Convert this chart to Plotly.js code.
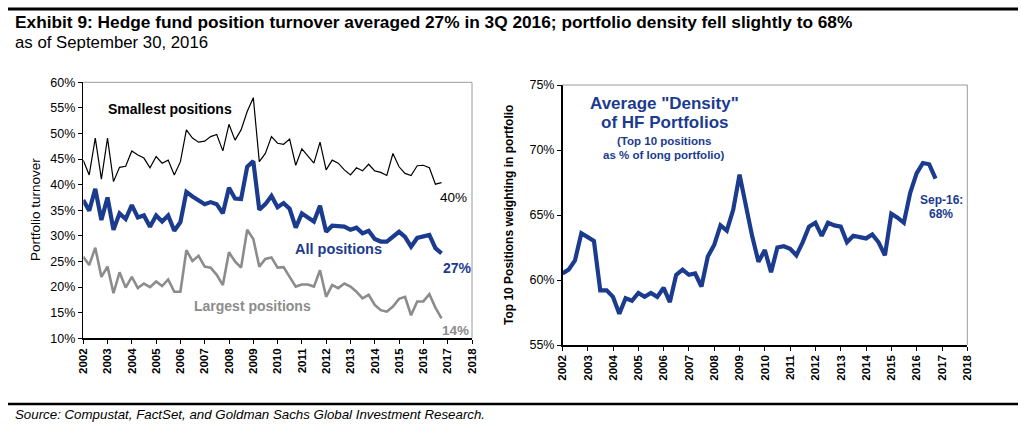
<!DOCTYPE html>
<html>
<head>
<meta charset="utf-8">
<script src="https://cdn.plot.ly/plotly-3.0.1.min.js"></script>
<style>
html,body{margin:0;padding:0;background:#fff;}
#chart{width:1021px;height:431px;}
</style>
</head>
<body>
<div id="chart"></div>
<script>
// ---- Data (quarterly, Q4 2001 .. Q3 2016, values in %) ----
const firstQuarterEnd = [2001, 12];
const nQuarters = 60;
const yearTicks = ['2002','2003','2004','2005','2006','2007','2008','2009','2010','2011','2012','2013','2014','2015','2016','2017','2018'];
const turnoverTicks = [10,15,20,25,30,35,40,45,50,55,60];
const densityTicks = [55,60,65,70,75];

const smallestPositions = [44.8,41.9,49.1,41.1,49.1,40.6,43.4,43.6,46.6,45.8,
  45.2,43.3,45.5,44.2,44.8,41.9,44.5,50.7,49.1,48.3,
  48.5,49.4,49.8,46.6,51.8,48.7,50.7,54.3,57.0,44.5,
  46.1,49.4,48.1,47.9,48.9,43.8,47.0,45.5,44.2,48.3,
  42.9,44.8,44.2,42.9,41.9,43.3,42.7,44.0,42.7,42.4,
  41.8,46.1,43.5,42.2,41.8,43.7,43.8,43.3,40.1,40.4];

const allPositions = [37.0,34.9,39.2,33.1,37.5,31.2,34.4,33.3,36.0,33.6,
  34.0,31.8,34.0,32.8,34.0,31.0,32.7,38.6,37.7,37.0,
  36.2,36.6,36.2,34.4,39.4,37.3,37.2,43.5,44.6,35.1,
  36.2,37.8,35.6,36.4,35.3,31.6,34.4,33.6,32.8,35.9,
  30.8,32.0,31.8,31.8,31.2,31.6,30.5,31.0,29.4,28.9,
  28.9,29.8,30.8,29.8,27.9,29.6,29.8,30.2,27.6,26.6];

const largestPositions = [25.9,24.3,27.7,22.0,24.0,18.8,22.9,19.9,22.0,19.8,
  20.7,20.0,21.1,20.2,21.5,19.1,19.1,27.2,25.1,26.1,
  24.0,23.8,22.4,20.4,26.8,25.0,23.8,31.2,29.4,24.0,
  25.5,25.8,23.8,23.9,22.0,20.1,20.5,20.5,20.1,23.3,
  18.1,20.4,19.8,20.7,20.1,19.1,17.8,18.5,16.5,15.5,
  15.2,16.2,17.7,18.1,14.5,17.2,17.2,18.6,16.0,13.9];

const portfolioDensity = [60.5,60.8,61.5,63.6,63.3,63.0,59.2,59.2,58.7,57.4,
  58.6,58.4,59.0,58.7,59.0,58.7,59.4,58.3,60.4,60.8,
  60.4,60.5,59.5,61.8,62.7,64.2,63.8,65.4,68.1,65.7,
  63.4,61.4,62.3,60.6,62.5,62.6,62.4,61.9,62.9,64.1,
  64.4,63.4,64.4,64.2,64.1,62.9,63.4,63.3,63.2,63.5,
  62.9,61.9,65.1,64.8,64.4,66.7,68.2,69.0,68.9,67.8];

// quarter-end dates
const monthEnd = {3:'31',6:'30',9:'30',12:'31'};
const quarterDates = [];
(function(){
  let y = firstQuarterEnd[0], m = firstQuarterEnd[1];
  for (let i=0;i<nQuarters;i++){
    quarterDates.push(y + '-' + String(m).padStart(2,'0') + '-' + monthEnd[m]);
    m += 3; if (m > 12){ m -= 12; y += 1; }
  }
})();

// ---- Layout helpers ----
const W = 1021, H = 431;
const px = v => v / W;
const py = v => 1 - v / H;

const BLUE = '#1b3b8f';
const GREY = '#8c8c8c';
const FONT = 'Liberation Sans, Arial, sans-serif';

const tickVals = yearTicks.map(y => y + '-01-01');

function xAxis(domain){
  return {
    domain: domain, type: 'date',
    range: ['2002-01-01','2018-01-01'],
    tickvals: tickVals, ticktext: yearTicks,
    tickangle: -90,
    tickfont: {family: FONT, size: 11.5, color: '#000', weight: 'bold'},
    ticks: 'outside', ticklen: 4, tickcolor: '#000', tickwidth: 1,
    showline: true, linecolor: '#000', linewidth: 1.5,
    showgrid: false, zeroline: false, fixedrange: true
  };
}

function yAxis(domain, range, ticks, extra){
  return Object.assign({
    domain: domain, range: range,
    tickmode: 'array', tickvals: ticks, ticktext: ticks.map(v => v + '%'),
    tickfont: {family: FONT, size: 12.5, color: '#000'},
    ticks: 'outside', ticklen: 4, tickcolor: '#000',
    showline: true, linecolor: '#000', linewidth: 1.5,
    showgrid: false, zeroline: false, fixedrange: true
  }, extra || {});
}

const traces = [
  {x: quarterDates, y: smallestPositions, type: 'scatter', mode: 'lines',
   line: {color: '#000', width: 1.2}, xaxis: 'x', yaxis: 'y', hoverinfo: 'skip'},
  {x: quarterDates, y: largestPositions, type: 'scatter', mode: 'lines',
   line: {color: GREY, width: 2.6}, xaxis: 'x', yaxis: 'y', hoverinfo: 'skip'},
  {x: quarterDates, y: allPositions, type: 'scatter', mode: 'lines',
   line: {color: BLUE, width: 4.2}, xaxis: 'x', yaxis: 'y', hoverinfo: 'skip'},
  {x: quarterDates, y: portfolioDensity, type: 'scatter', mode: 'lines',
   line: {color: BLUE, width: 4.2}, xaxis: 'x2', yaxis: 'y2', hoverinfo: 'skip'}
];

function ann(text, x, y, opts){
  return Object.assign({
    text: text, x: px(x), y: py(y), xref: 'paper', yref: 'paper',
    showarrow: false, xanchor: 'center', yanchor: 'middle',
    font: {family: FONT, size: 13, color: '#000'}
  }, opts || {});
}

const layout = {
  width: W, height: H,
  margin: {l: 0, r: 0, t: 0, b: 0},
  paper_bgcolor: '#fff', plot_bgcolor: '#fff',
  showlegend: false,
  font: {family: FONT, color: '#000'},
  xaxis: xAxis([px(83.3), px(472)]),
  yaxis: yAxis([py(338.3), py(82.3)], [10, 60], turnoverTicks),
  xaxis2: Object.assign(xAxis([px(562.5), px(967.3)]), {anchor: 'y2'}),
  yaxis2: yAxis([py(345), py(85)], [55, 75], densityTicks, {anchor: 'x2'}),
  shapes: [
    // header / footer rules
    {type: 'line', xref: 'paper', yref: 'paper', x0: px(8), x1: px(1018), y0: py(9), y1: py(9), line: {color: '#000', width: 3}},
    {type: 'line', xref: 'paper', yref: 'paper', x0: px(8), x1: px(1018), y0: py(404), y1: py(404), line: {color: '#000', width: 2.5}},
    // grey plot frames (top/right)
    {type: 'line', xref: 'x domain', yref: 'y domain', x0: 0, x1: 1, y0: 1, y1: 1, line: {color: '#9a9a9a', width: 1}},
    {type: 'line', xref: 'x domain', yref: 'y domain', x0: 1, x1: 1, y0: 0, y1: 1, line: {color: '#9a9a9a', width: 1}},
    {type: 'line', xref: 'x2 domain', yref: 'y2 domain', x0: 0, x1: 1, y0: 1, y1: 1, line: {color: '#9a9a9a', width: 1}},
    {type: 'line', xref: 'x2 domain', yref: 'y2 domain', x0: 1, x1: 1, y0: 0, y1: 1, line: {color: '#9a9a9a', width: 1}}
  ],
  annotations: [
    ann('Exhibit 9: Hedge fund position turnover averaged 27% in 3Q 2016; portfolio density fell slightly to 68%', 13, 22,
        {xanchor: 'left', font: {family: FONT, size: 17.3, color: '#000', weight: 'bold'}}),
    ann('as of September 30, 2016', 13, 43, {xanchor: 'left', font: {family: FONT, size: 16.8, color: '#000'}}),
    ann('<i>Source: Compustat, FactSet, and Goldman Sachs Global Investment Research.</i>', 13, 414,
        {xanchor: 'left', font: {family: FONT, size: 13.3, color: '#000'}}),
    // left chart
    ann('Portfolio turnover', 35, 210, {textangle: -90, font: {family: FONT, size: 13.5, color: '#000'}}),
    ann('<b>Smallest positions</b>', 170, 109, {font: {family: FONT, size: 14, color: '#000'}}),
    ann('<b>All positions</b>', 338, 249, {font: {family: FONT, size: 14.5, color: BLUE}}),
    ann('<b>Largest positions</b>', 252, 306, {font: {family: FONT, size: 14, color: GREY}}),
    ann('40%', 453, 197, {font: {family: FONT, size: 13.5, color: '#000'}}),
    ann('<b>27%</b>', 457, 268, {font: {family: FONT, size: 14, color: BLUE}}),
    ann('<b>14%</b>', 455, 330, {font: {family: FONT, size: 13.5, color: GREY}}),
    // right chart
    ann('<b>Top 10 Positions weighting in portfolio</b>', 509, 215, {textangle: -90, font: {family: FONT, size: 12, color: '#000'}}),
    ann('<b>Average "Density"</b>', 664, 103, {font: {family: FONT, size: 17, color: BLUE}}),
    ann('<b>of HF Portfolios</b>', 664, 123, {font: {family: FONT, size: 17, color: BLUE}}),
    ann('<b>(Top 10 positions</b>', 664, 141, {font: {family: FONT, size: 11.5, color: BLUE}}),
    ann('<b>as % of long portfolio)</b>', 664, 155, {font: {family: FONT, size: 11.5, color: BLUE}}),
    ann('<b>Sep-16:</b>', 941, 200, {font: {family: FONT, size: 12, color: BLUE}}),
    ann('<b>68%</b>', 941, 214, {font: {family: FONT, size: 12, color: BLUE}})
  ]
};

Plotly.newPlot('chart', traces, layout, {staticPlot: true, displayModeBar: false});
</script>
</body>
</html>
